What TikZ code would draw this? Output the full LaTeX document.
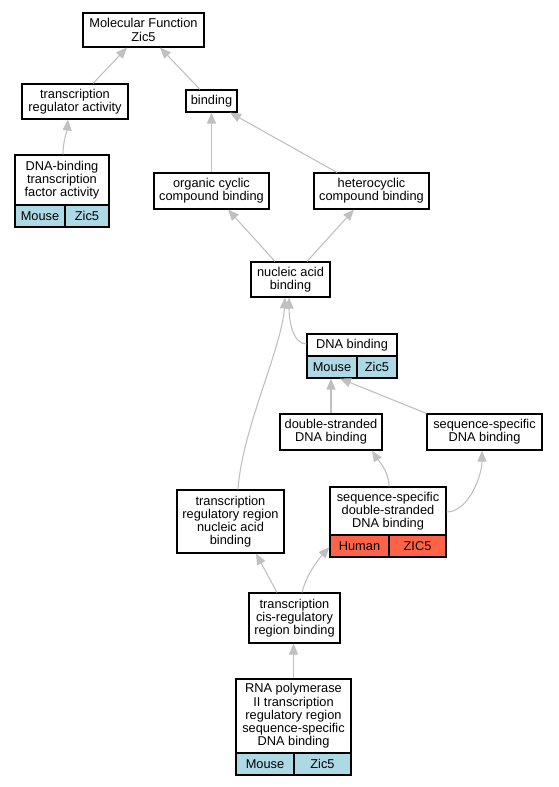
\documentclass[tikz,border=0pt]{standalone}
\usepackage{fontspec}
\setmainfont{Liberation Sans}
\usetikzlibrary{arrows.meta,calc}
\definecolor{edgegray}{HTML}{C0C0C0}
\definecolor{mouseblue}{HTML}{ADD8E6}
\definecolor{humanred}{HTML}{FF6347}
\begin{document}
\begin{tikzpicture}[x=1pt,y=-1pt,
  box/.style={draw=black, line width=1.1pt, inner sep=0pt, align=center,
    font=\fontsize{12.8}{13.2}\selectfont, fill=white},
  mcell/.style={box, fill=mouseblue},
  hcell/.style={box, fill=humanred},
  edge/.style={draw=edgegray, line width=1.1pt, -{Triangle[length=11pt,width=9pt]}}]
\useasboundingbox (0,0) rectangle (559,787);
% nodes
\node[box, minimum width=121pt, minimum height=34pt] (mf) at (143.5,30) {Molecular Function\\Zic5};
\node[box, minimum width=106pt, minimum height=35pt] (tra) at (75,101.5) {transcription\\regulator activity};
\node[box, minimum width=51pt, minimum height=22pt] (bind) at (211.5,101) {binding};
\node[box, minimum width=94pt, minimum height=50pt] (dbtf) at (62,180) {DNA-binding\\transcription\\factor activity};
\node[mcell, minimum width=50pt, minimum height=22pt] (dbtfm) at (40,216) {Mouse};
\node[mcell, minimum width=44pt, minimum height=22pt] (dbtfz) at (87,216) {Zic5};
\node[box, minimum width=115pt, minimum height=36pt] (occ) at (211.5,191) {organic cyclic\\compound binding};
\node[box, minimum width=115pt, minimum height=36pt] (hcb) at (371.5,191) {heterocyclic\\compound binding};
\node[box, minimum width=79pt, minimum height=35pt] (nab) at (290.5,279.5) {nucleic acid\\binding};
\node[box, minimum width=90pt, minimum height=22pt] (dnab) at (352,345) {DNA binding};
\node[mcell, minimum width=50pt, minimum height=22pt] (dnabm) at (332,367) {Mouse};
\node[mcell, minimum width=40pt, minimum height=22pt] (dnabz) at (377,367) {Zic5};
\node[box, minimum width=102pt, minimum height=36pt] (ds) at (331,432) {double-stranded\\DNA binding};
\node[box, minimum width=115pt, minimum height=36pt] (ssd) at (484.5,432) {sequence-specific\\DNA binding};
\node[box, minimum width=107pt, minimum height=63pt] (trr) at (230.5,521.5) {transcription\\regulatory region\\nucleic acid\\binding};
\node[box, minimum width=116pt, minimum height=48pt] (ssds) at (388,511) {sequence-specific\\double-stranded\\DNA binding};
\node[hcell, minimum width=59pt, minimum height=22pt] (ssdsh) at (359.5,546) {Human};
\node[hcell, minimum width=57pt, minimum height=22pt] (ssdsz) at (417.5,546) {ZIC5};
\node[box, minimum width=91pt, minimum height=50pt] (tcrb) at (294.5,618) {transcription\\cis-regulatory\\region binding};
\node[box, minimum width=115pt, minimum height=74pt] (rnap) at (293.5,716) {RNA polymerase\\II transcription\\regulatory region\\sequence-specific\\DNA binding};
\node[mcell, minimum width=58pt, minimum height=22pt] (rnapm) at (265,764) {Mouse};
\node[mcell, minimum width=57pt, minimum height=22pt] (rnapz) at (322.5,764) {Zic5};
% edges
\draw[edge] ([xshift=18pt]tra.north) -- ([xshift=-16.5pt]mf.south);
\draw[edge] ([xshift=-11.5pt]bind.north) -- ([xshift=16.5pt]mf.south);
\draw[edge] ([xshift=1pt]dbtf.north) .. controls +(0,-14) and +(-1,12) .. ([xshift=-7pt]tra.south);
\draw[edge] (occ.north) -- (bind.south);
\draw[edge] ([xshift=-34.5pt]hcb.north) -- ([xshift=18.5pt]bind.south);
\draw[edge] ([xshift=-15.5pt]nab.north) -- ([xshift=16.5pt]occ.south);
\draw[edge] ([xshift=16.5pt]nab.north) -- ([xshift=-17.5pt]hcb.south);
\draw[edge] ([yshift=1pt]dnab.west) .. controls +(-14,0) and +(0,22) .. ([xshift=-1.5pt]nab.south);
\draw[edge] (ds.north) -- ([xshift=-1pt]dnabm.south);
\draw[edge] (ssd.north west) -- ([xshift=8pt]dnabm.south);
\draw[edge] ([xshift=7.5pt]trr.north) .. controls +(4,-60) and +(-3,50) .. ([xshift=-5.5pt]nab.south);
\draw[edge] ([xshift=1pt]ssds.north) .. controls +(0,-16) and +(5,8) .. ([xshift=41pt]ds.south);
\draw[edge] ([yshift=-1pt]ssds.east) .. controls +(22,0) and +(0,25) .. ([xshift=-2.5pt]ssd.south);
\draw[edge] ([xshift=-17.5pt]tcrb.north) -- ([xshift=25.5pt]trr.south);
\draw[edge] ([xshift=7.5pt]tcrb.north) .. controls +(5,-20) and +(-9,10) .. ([yshift=-1pt]ssdsh.west);
\draw[edge] (rnap.north) -- (rnap.north |- tcrb.south);
\end{tikzpicture}
\end{document}
